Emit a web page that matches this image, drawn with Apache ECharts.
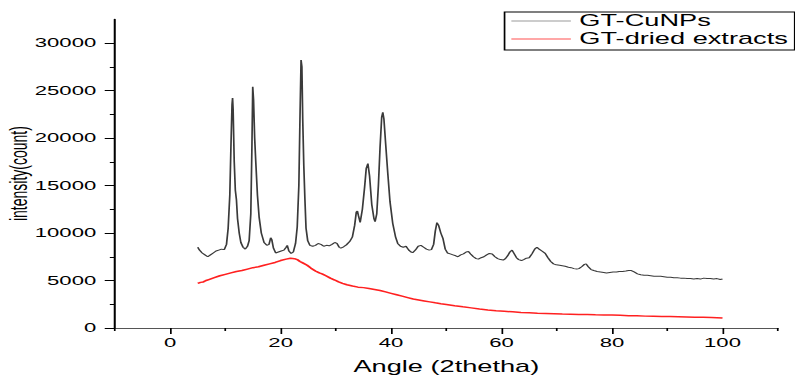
<!DOCTYPE html>
<html>
<head>
<meta charset="utf-8">
<title>XRD GT-CuNPs</title>
<script src="https://cdn.jsdelivr.net/npm/echarts@6.0.0/dist/echarts.min.js"></script>
<style>
  html, body { margin: 0; padding: 0; background: #fff; overflow: hidden; }
  /* the source figure is stretched sideways, so the chart is drawn narrow and widened */
  #chart { width: 467.6px; height: 378px; transform: scaleX(1.7); transform-origin: 0 0; }
</style>
</head>
<body>
<div id="chart"></div>
<script>
// GT-CuNPs (black)
const cuAngle = [5.0, 5.3, 5.8, 6.3, 6.8, 7.3, 7.8, 8.3, 8.8, 9.3, 9.8, 10.2, 10.5, 10.8, 11.0, 11.2, 11.3, 11.4, 11.6, 11.8,
  12.0, 12.2, 12.5, 12.8, 13.2, 13.6, 14.0, 14.3, 14.6, 14.8, 14.95, 15.1, 15.3, 15.5, 15.8, 16.1, 16.5, 17.0, 17.5, 17.9,
  18.2, 18.4, 18.7, 19.1, 19.6, 20.1, 20.6, 21.0, 21.2, 21.5, 21.9, 22.3, 22.7, 23.0, 23.3, 23.5, 23.7, 23.85, 24.0, 24.2,
  24.4, 24.6, 24.9, 25.3, 25.8, 26.3, 26.8, 27.3, 27.8, 28.3, 28.8, 29.3, 29.8, 30.2, 30.6, 30.9, 31.4, 31.9, 32.5, 33.0,
  33.4, 33.7, 33.9, 34.1, 34.4, 34.8, 35.2, 35.5, 35.8, 36.1, 36.5, 36.9, 37.1, 37.4, 37.7, 38.0, 38.3, 38.5, 38.7, 39.0,
  39.4, 39.8, 40.3, 40.8, 41.2, 41.7, 42.2, 42.7, 43.2, 43.6, 43.9, 44.4, 44.9, 45.4, 45.9, 46.4, 46.9, 47.3, 47.7, 48.0,
  48.3, 48.6, 49.0, 49.4, 49.8, 50.2, 50.7, 51.2, 51.7, 52.1, 52.6, 53.1, 53.6, 54.0, 54.4, 54.9, 55.4, 55.8, 56.3, 56.8,
  57.3, 57.8, 58.3, 58.8, 59.3, 59.8, 60.3, 60.7, 61.1, 61.5, 61.9, 62.3, 62.7, 63.1, 63.6, 64.0, 64.5, 65.0, 65.5, 66.0,
  66.4, 66.8, 67.3, 67.9, 68.4, 68.9, 69.4, 69.9, 70.5, 71.0, 71.5, 72.1, 72.6, 73.1, 73.6, 74.0, 74.5, 75.0, 75.3, 75.7,
  76.2, 76.7, 77.3, 77.9, 78.5, 79.0, 79.6, 80.2, 80.8, 81.3, 81.9, 82.5, 83.0, 83.5, 84.0, 84.6, 85.2, 85.8, 86.4, 87.0,
  87.6, 88.2, 88.8, 89.4, 90.0, 90.6, 91.2, 91.8, 92.4, 93.0, 93.6, 94.2, 94.8, 95.4, 96.0, 96.6, 97.2, 97.8, 98.4, 99.0,
  99.6, 100.0]
const cuCount = [8500, 8200, 7900, 7700, 7500, 7700, 7900, 8100, 8200, 8300, 8250, 8800, 10500, 14000, 19000, 23500, 24200, 23000, 17500, 14500,
  13500, 11500, 10000, 9000, 8500, 8300, 8600, 9200, 12000, 19000, 25400, 24000, 20000, 17500, 14000, 11700, 10000, 9000, 8700, 8800,
  9500, 9300, 8400, 7900, 8000, 8100, 8200, 8500, 8700, 8100, 7850, 8000, 8900, 10600, 15000, 22000, 28200, 27500, 22000, 17000,
  13500, 10500, 9200, 8700, 8600, 8700, 8900, 8800, 8600, 8700, 8650, 8800, 9000, 8900, 8500, 8400, 8550, 8750, 9100, 9600,
  10800, 12200, 12300, 11800, 11100, 12500, 14800, 16800, 17300, 16000, 13000, 11500, 11200, 12000, 15000, 19000, 22200, 22700, 22000, 19500,
  16300, 13300, 11000, 9600, 8900, 8600, 8500, 8600, 8200, 8000, 7930, 8200, 8600, 8700, 8500, 8300, 8200, 8250, 8800, 10200,
  11100, 10800, 10000, 9400, 8300, 7900, 7800, 7700, 7600, 7500, 7700, 7800, 8000, 8050, 7800, 7500, 7300, 7250, 7400, 7500,
  7700, 7850, 7800, 7500, 7300, 7200, 7150, 7300, 7600, 8000, 8200, 7800, 7400, 7200, 7100, 7200, 7350, 7400, 7800, 8300,
  8500, 8300, 8100, 7850, 7400, 7000, 6750, 6650, 6600, 6550, 6500, 6400, 6350, 6250, 6200, 6250, 6450, 6700, 6750, 6450,
  6150, 6050, 5950, 5900, 5850, 5800, 5850, 5900, 5900, 5950, 5950, 6000, 6050, 6050, 5900, 5700, 5600, 5550, 5550, 5500,
  5450, 5450, 5450, 5400, 5350, 5350, 5300, 5300, 5250, 5250, 5200, 5200, 5150, 5200, 5150, 5250, 5200, 5200, 5150, 5200,
  5100, 5150]

// GT-dried extracts (red)
const extAngle = [5.0, 5.5, 6.0, 6.5, 7.0, 7.5, 8.0, 9.0, 10.0, 11.0, 12.0, 13.0, 14.0, 15.0, 16.0, 17.0, 18.0, 19.0, 20.0, 21.0,
  21.8, 22.5, 23.0, 23.5, 24.0, 24.8, 25.5, 26.3, 27.0, 27.5, 28.2, 29.0, 29.8, 30.5, 31.2, 32.0, 33.0, 34.0, 35.0, 36.0,
  37.0, 38.0, 39.0, 40.0, 41.0, 42.0, 43.0, 44.0, 45.0, 46.0, 47.0, 48.0, 49.0, 50.0, 51.5, 53.0, 54.5, 56.0, 57.5, 59.0,
  60.5, 62.0, 63.5, 65.0, 66.5, 68.0, 69.5, 71.0, 72.5, 74.0, 75.5, 77.0, 78.5, 80.0, 81.5, 83.0, 84.5, 86.0, 87.5, 89.0,
  90.5, 92.0, 93.5, 95.0, 96.5, 98.0, 99.0, 100.0]
const extCount = [4700, 4800, 4850, 5000, 5100, 5200, 5300, 5500, 5650, 5800, 5950, 6050, 6200, 6350, 6450, 6600, 6750, 6900, 7100, 7250,
  7350, 7300, 7200, 7000, 6850, 6600, 6300, 6000, 5800, 5700, 5500, 5250, 5050, 4850, 4700, 4550, 4420, 4300, 4250, 4150,
  4050, 3950, 3800, 3650, 3500, 3350, 3200, 3050, 2950, 2850, 2750, 2650, 2560, 2480, 2350, 2230, 2120, 2000, 1900, 1820,
  1760, 1700, 1640, 1600, 1560, 1530, 1500, 1470, 1450, 1430, 1410, 1390, 1380, 1360, 1330, 1300, 1280, 1250, 1230, 1210,
  1200, 1180, 1160, 1140, 1120, 1100, 1080, 1050]

// tick labels / tick positions
const xLabels = [0, 20, 40, 60, 80, 100]
const xMinor = [-10, 10, 30, 50, 70, 90, 110]
const yLabels = [0, 5000, 10000, 15000, 20000, 25000, 30000]
const yMinor = [2500, 7500, 12500, 17500, 22500, 27500]

const font = 'Liberation Sans, Arial, sans-serif'

function pairs(xs, ys) {
  return xs.map((x, i) => [x, ys[i]])
}

const myChart = echarts.init(document.getElementById('chart'), null, { renderer: 'svg' })
myChart.setOption({
  animation: false,
  backgroundColor: '#fff',
  grid: { left: 67.6, right: 10.5, top: 19.25, bottom: 50, outerBoundsMode: 'none' },
  legend: {
    orient: 'vertical',
    right: 0.5,
    top: 12,
    padding: [1, 4, 3, 3.5],
    itemGap: 2,
    itemWidth: 35,
    itemHeight: 18,
    borderColor: '#000',
    borderWidth: 1,
    itemStyle: { opacity: 0 },
    textStyle: { fontFamily: font, fontSize: 16, color: '#000' },
    data: [
      { name: 'GT-CuNPs', lineStyle: { color: '#999', width: 1 } },
      { name: 'GT-dried extracts', lineStyle: { color: '#ff5050', width: 1 } }
    ]
  },
  xAxis: [
    {
      type: 'value',
      min: -10,
      max: 110,
      interval: 10,
      name: 'Angle (2thetha)',
      nameLocation: 'middle',
      nameGap: 31,
      nameMoveOverlap: false,
      nameTextStyle: { fontFamily: font, fontSize: 16, color: '#000' },
      axisLine: { onZero: false, lineStyle: { color: '#555', width: 1.2 } },
      axisTick: { length: 6, customValues: xLabels, lineStyle: { color: '#000', width: 1 } },
      axisLabel: { fontFamily: font, fontSize: 13, color: '#000', margin: 8, customValues: xLabels, formatter: v => String(v) },
      splitLine: { show: false }
    },
    {
      // short ticks between the labelled ones
      type: 'value',
      position: 'bottom',
      min: -10,
      max: 110,
      interval: 10,
      axisLine: { show: false, onZero: false },
      axisTick: { length: 3, customValues: xMinor, lineStyle: { color: '#000', width: 1 } },
      axisLabel: { show: false },
      splitLine: { show: false }
    }
  ],
  yAxis: [
    {
      type: 'value',
      min: 0,
      max: 32500,
      interval: 2500,
      name: 'intensity(count)',
      nameLocation: 'middle',
      nameGap: 50,
      nameMoveOverlap: false,
      nameTextStyle: { fontFamily: font, fontSize: 14, color: '#000' },
      axisLine: { show: true, onZero: false, lineStyle: { color: '#000', width: 1.2 } },
      axisTick: { show: true, length: 6, customValues: yLabels, lineStyle: { color: '#000', width: 1 } },
      axisLabel: { fontFamily: font, fontSize: 13, color: '#000', margin: 11, customValues: yLabels, formatter: v => String(v) },
      splitLine: { show: false }
    },
    {
      type: 'value',
      position: 'left',
      min: 0,
      max: 32500,
      interval: 2500,
      axisLine: { show: false, onZero: false },
      axisTick: { show: true, length: 3, customValues: yMinor, lineStyle: { color: '#000', width: 1 } },
      axisLabel: { show: false },
      splitLine: { show: false }
    }
  ],
  series: [
    {
      name: 'GT-CuNPs',
      type: 'line',
      symbol: 'none',
      data: pairs(cuAngle, cuCount),
      lineStyle: { color: '#3a3a3a', width: 1 },
      itemStyle: { color: '#999' }
    },
    {
      name: 'GT-dried extracts',
      type: 'line',
      symbol: 'none',
      data: pairs(extAngle, extCount),
      lineStyle: { color: '#ff2020', width: 1.5 },
      itemStyle: { color: '#ff2020' }
    }
  ]
})
</script>
</body>
</html>
